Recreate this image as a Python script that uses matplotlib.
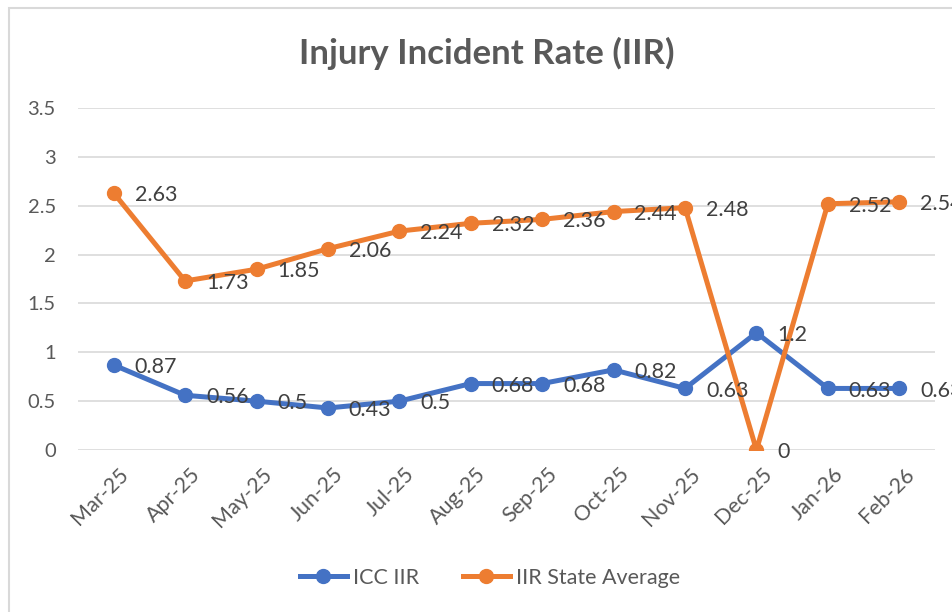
import matplotlib.pyplot as plt
import matplotlib.transforms as mtransforms
from matplotlib.patches import Rectangle

months = ["Mar-25", "Apr-25", "May-25", "Jun-25", "Jul-25", "Aug-25",
          "Sep-25", "Oct-25", "Nov-25", "Dec-25", "Jan-26", "Feb-26"]
icc_iir = [0.87, 0.56, 0.5, 0.43, 0.5, 0.68, 0.68, 0.82, 0.63, 1.2, 0.63, 0.63]
state_avg = [2.63, 1.73, 1.85, 2.06, 2.24, 2.32, 2.36, 2.44, 2.48, 0, 2.52, 2.54]
y_ticks = [0, 0.5, 1, 1.5, 2, 2.5, 3, 3.5]

BLUE = "#4472C4"
ORANGE = "#ED7D31"
TEXT = "#595959"
LABEL = "#404040"

plt.rcParams["font.family"] = ["Lato", "DejaVu Sans"]

fig = plt.figure(figsize=(9.52, 6.12), dpi=100)
ax = fig.add_axes([78 / 952, 1 - 450 / 612, (935 - 78) / 952, (450 - 108) / 612])

# chart frame
fig.patches.append(Rectangle((9 / 952, -0.1), 1.1, 1 - 8 / 612 + 0.1,
                             transform=fig.transFigure, fill=False,
                             edgecolor="#D9D9D9", linewidth=1.5))

x = list(range(len(months)))
ax.plot(x, icc_iir, "-o", color=BLUE, linewidth=3.6, markersize=10,
        label="ICC IIR", zorder=3)
ax.plot(x, state_avg, "-o", color=ORANGE, linewidth=3.6, markersize=10,
        label="IIR State Average", zorder=3)

for series in (icc_iir, state_avg):
    for xi, v in zip(x, series):
        ax.annotate(f"{v:g}", (xi, v), xytext=(15, -1.5), textcoords="offset points",
                    ha="left", va="center", fontsize=15.5, color=LABEL,
                    annotation_clip=False, zorder=4)

ax.set_xlim(-0.5, len(months) - 0.5)
ax.set_ylim(0, 3.5)
ax.set_yticks(y_ticks)
ax.set_yticklabels([f"{t:g}" for t in y_ticks])
ax.set_xticks(x)
ax.set_xticklabels(months, rotation=45, ha="right", rotation_mode="anchor")
ax.tick_params(axis="both", length=0, labelcolor=TEXT)
ax.tick_params(axis="y", pad=16, labelsize=14.5)
ax.tick_params(axis="x", pad=10, labelsize=15.5)
shift = mtransforms.ScaledTranslation(5 / 100, 0, fig.dpi_scale_trans)
for lbl in ax.get_xticklabels():
    lbl.set_transform(lbl.get_transform() + shift)
ax.grid(axis="y", color="#D9D9D9", linewidth=1.2)
ax.set_axisbelow(True)
for s in ax.spines.values():
    s.set_visible(False)

fig.text(487 / 952, 1 - 53 / 612, "Injury Incident Rate (IIR)", ha="center",
         va="center", fontsize=25, fontweight="bold", color=TEXT)

fig.legend(loc="center", bbox_to_anchor=(490 / 952, 1 - 578 / 612), ncol=2,
           frameon=False, fontsize=15.5, labelcolor=TEXT, handlelength=2.2,
           columnspacing=2.0, handletextpad=0.3)

fig.savefig("out.png", dpi=100)
